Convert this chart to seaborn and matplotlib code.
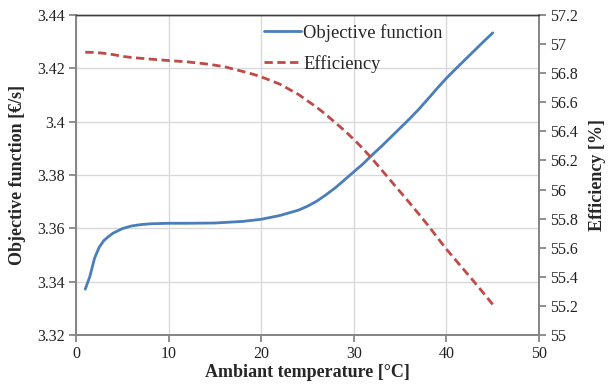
import numpy as np
import pandas as pd
import matplotlib
matplotlib.use('Agg')
import matplotlib.pyplot as plt
import seaborn as sns
from matplotlib.ticker import FuncFormatter

# Objective function readings [€/s] vs ambient temperature [°C]
temp_obj = [1, 1.5, 2, 2.5, 3, 3.5, 4, 5, 6, 7, 8, 10, 12, 15, 18, 20, 22, 24, 25, 26, 27, 28,
            29, 30, 31, 32, 33, 34, 35, 36, 37, 38, 39, 40, 41, 42, 43, 44, 45]
objective = [3.3372, 3.342, 3.3488, 3.3529, 3.3554, 3.3569, 3.3582, 3.3599, 3.3609, 3.3614, 3.3617,
             3.3619, 3.3619, 3.362, 3.3626, 3.3634, 3.3648, 3.3668, 3.3683, 3.3702, 3.3726, 3.3752,
             3.3782, 3.3812, 3.3842, 3.3876, 3.3908, 3.3942, 3.3976, 3.401, 3.4046, 3.4085, 3.4125,
             3.4163, 3.4198, 3.4232, 3.4266, 3.43, 3.4333]

# Efficiency readings [%]
temp_eff = [1, 2, 3, 4, 5, 6, 8, 10, 12, 14, 15, 16, 18, 19, 20, 22, 24, 25, 26, 27, 28, 29, 30,
            31, 32, 33, 34, 35, 36, 37, 38, 39, 40, 41, 42, 43, 44, 45]
efficiency = [56.944, 56.943, 56.937, 56.928, 56.916, 56.908, 56.897, 56.887, 56.878, 56.864,
              56.855, 56.845, 56.812, 56.795, 56.775, 56.725, 56.655, 56.61, 56.565, 56.515, 56.46,
              56.405, 56.345, 56.28, 56.21, 56.135, 56.06, 55.985, 55.91, 55.833, 55.755, 55.672,
              55.59, 55.515, 55.44, 55.365, 55.288, 55.21]

df_obj = pd.DataFrame({'temp': temp_obj, 'val': objective})
df_eff = pd.DataFrame({'temp': temp_eff, 'val': efficiency})

sns.set_style('white')
plt.rcParams['font.family'] = ['Liberation Serif', 'DejaVu Serif']

fig = plt.figure(figsize=(6.14, 3.9), dpi=100)
ax = fig.add_axes([0.1238, 0.141, 0.8779 - 0.1238, 0.9615 - 0.141])
ax2 = ax.twinx()

blue = '#4A7EBB'
red = '#BE4B48'
gray = '#868686'

sns.lineplot(data=df_obj, x='temp', y='val', ax=ax, color=blue, linewidth=2.0,
             label='Objective function', legend=False)
sns.lineplot(data=df_eff, x='temp', y='val', ax=ax2, color=red, linewidth=2.0,
             dashes=False, label='Efficiency', legend=False)
ax2.lines[0].set_linestyle((0, (3, 1.6)))

ax.set_xlim(0, 50)
ax.set_ylim(3.32, 3.44)
ax2.set_ylim(55, 57.2)
ax.set_xticks(np.arange(0, 51, 10))
ax.set_yticks(np.arange(3.32, 3.4401, 0.02))
ax2.set_yticks(np.arange(55, 57.201, 0.2))

fmt = FuncFormatter(lambda v, p: '{:g}'.format(round(v, 3)))
ax.yaxis.set_major_formatter(fmt)
ax2.yaxis.set_major_formatter(fmt)

ax.grid(True, color='#D9D9D9', linewidth=1)
ax.set_axisbelow(True)
ax2.grid(False)

for a in (ax, ax2):
    for side in ('left', 'right', 'bottom'):
        a.spines[side].set_color(gray)
        a.spines[side].set_linewidth(1.3)
    a.spines['top'].set_color('#404040')
    a.spines['top'].set_linewidth(1)
    a.tick_params(direction='out', length=5, width=1.3, color=gray, labelsize=11.5,
                  labelcolor='#222222', pad=3)

ax.tick_params(axis='y', left=True)
ax.tick_params(axis='x', bottom=True)
ax2.tick_params(axis='y', right=True)

ax.set_xlabel('Ambiant temperature [°C]', fontsize=13, fontweight='bold', labelpad=1)
ax.set_ylabel('Objective function [€/s]', fontsize=13, fontweight='bold', labelpad=8)
ax2.set_ylabel('Efficiency [%]', fontsize=13, fontweight='bold', labelpad=8)

h1, l1 = ax.get_legend_handles_labels()
h2, l2 = ax2.get_legend_handles_labels()
leg = ax2.legend(h1 + h2, l1 + l2, loc='upper left', bbox_to_anchor=(0.37, 1.025),
                 frameon=False, fontsize=13.4, handlelength=2.0, handletextpad=0.1,
                 labelspacing=0.7)

fig.savefig('out.png', dpi=100)
